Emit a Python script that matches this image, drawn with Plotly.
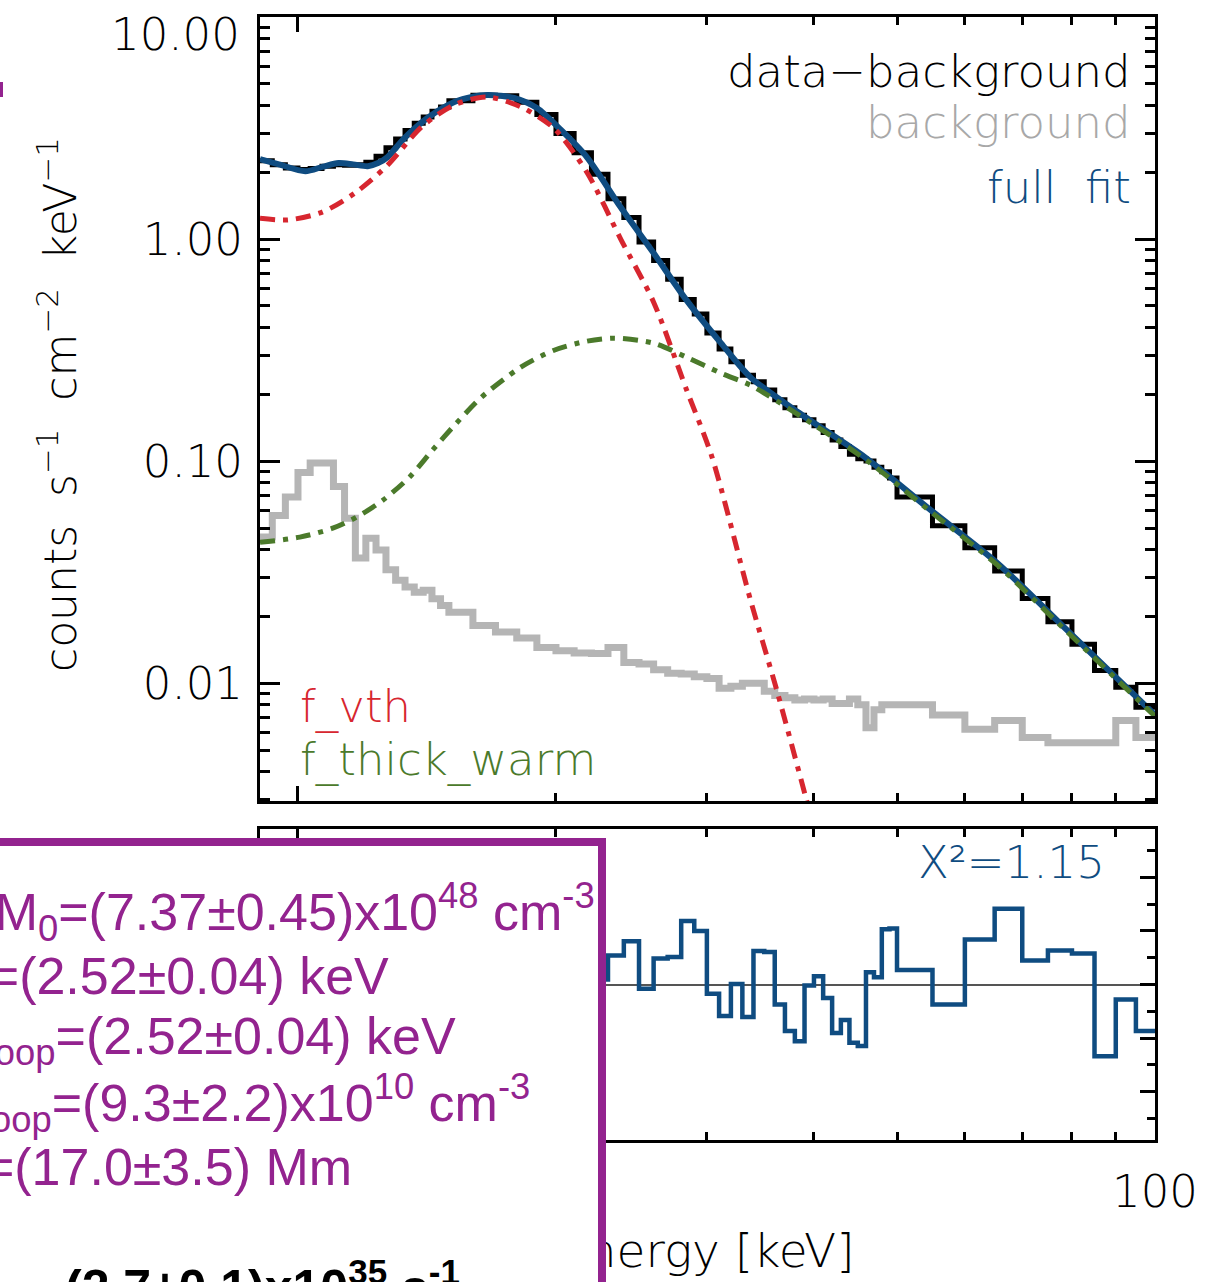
import math
import plotly.graph_objects as go

# ---------------- data ----------------
# energy bin edges (keV)
bin_edges = [9.0, 9.333, 9.667, 10.0, 10.333, 10.667, 11.0, 11.333, 11.667, 12.0,
             12.333, 12.667, 13.0, 13.333, 13.667, 14.0, 14.333, 14.667, 15.0,
             16, 17, 18, 19, 20, 21, 22, 23, 24, 25, 26, 27, 28, 29, 30,
             31, 32, 33, 34, 35, 36, 37, 38, 39, 40, 41, 42, 43, 44, 45,
             46, 47, 48, 49, 50, 55, 60, 65, 70, 75, 80, 85, 90, 95, 100]

# data - background (counts s^-1 cm^-2 keV^-1)
data_minus_bkg = [2.25, 2.16, 2.09, 2.06, 2.08, 2.13, 2.16, 2.15, 2.16, 2.22,
                  2.36, 2.58, 2.82, 3.08, 3.32, 3.55, 3.76, 3.93,
                  4.20, 4.44, 4.42, 4.13, 3.64, 2.99, 2.45, 1.96, 1.52, 1.25,
                  0.97, 0.80, 0.66, 0.535, 0.46, 0.378, 0.320, 0.280, 0.244, 0.228,
                  0.209, 0.189, 0.174, 0.161, 0.1535, 0.1445, 0.1345, 0.1245, 0.1165, 0.1075,
                  0.1025, 0.1003, 0.0940, 0.0895, 0.0840,
                  0.0690, 0.0512, 0.0408, 0.0320, 0.0241, 0.0189, 0.0150, 0.0114, 0.0096, 0.0078]

background = [0.0455, 0.057, 0.069, 0.089, 0.098, 0.098, 0.077, 0.0553, 0.0366, 0.045,
              0.0398, 0.0324, 0.0291, 0.0271, 0.0257, 0.0262, 0.0240, 0.0224,
              0.0209, 0.0182, 0.0170, 0.0160, 0.0145, 0.0140, 0.0137, 0.0136, 0.0145, 0.0124,
              0.0122, 0.0115, 0.0111, 0.0110, 0.0107, 0.0105, 0.0095, 0.0097, 0.0100, 0.0100,
              0.0092, 0.0088, 0.0086, 0.0084, 0.0085, 0.0084, 0.0085, 0.0081, 0.0081, 0.0085,
              0.0080, 0.0063, 0.0076, 0.0080, 0.0080,
              0.0080, 0.0072, 0.0062, 0.0068, 0.0057, 0.0054, 0.0054, 0.0054, 0.0068, 0.0057]

# normalised residuals per bin
residuals = [0.8, -0.5, 1.2, 0.3, -1.0, 0.6, -0.2, 1.5, -0.8, 0.4,
             -1.3, 0.9, 0.1, -0.6, 1.1, -0.4, 0.7, -1.1,
             0.5, 1.3, -0.7, 0.2, -0.9, 1.0, -0.3, 0.19, 1.08, 1.62,
             -0.16, 0.97, 1.03, 2.37, 2.0, -0.35, -1.18, 0.02, -1.21, 1.25,
             1.21, -0.75, -1.74, -2.12, -0.04, 0.31, -0.5, -1.81, -1.33, -2.18,
             -2.3, 0.46, 0.27, 2.06, 2.09,
             0.54, -0.75, 1.68, 2.83, 0.90, 1.27, 1.16, -2.68, -0.56, -1.74]

# full fit
fit_energy = [9.03, 9.5, 10.2, 10.7, 11.15, 11.6, 12.06, 12.4, 12.72, 13.31, 14.16, 15.22,
              16.0, 16.63, 17.2, 17.87, 19.0, 20.27, 21.73, 23.8, 26.0, 28.4, 31.16, 33.71,
              38.34, 45.9, 54.8, 65.5, 78.3, 100.0]
fit_flux = [2.29, 2.17, 2.02, 2.12, 2.20, 2.17, 2.13, 2.20, 2.34, 2.85, 3.51, 4.14,
            4.38, 4.45, 4.42, 4.32, 3.89, 3.10, 2.34, 1.39, 0.865, 0.531, 0.340, 0.239,
            0.166, 0.104, 0.060, 0.0347, 0.0179, 0.0072]

# f_vth component
vth_energy = [9.03, 9.74, 10.66, 11.65, 12.72, 13.94, 15.22, 16.63, 18.2, 19.9, 21.73,
              23.8, 26.0, 28.4, 30.4, 33.7, 36.2, 39.1, 39.8]
vth_flux = [1.24, 1.22, 1.32, 1.61, 2.15, 3.20, 4.02, 4.36, 3.94, 3.15, 2.00,
            1.00, 0.52, 0.21, 0.105, 0.0240, 0.0093, 0.0031, 0.0024]

# f_thick_warm component
thick_energy = [9.03, 10.05, 10.98, 11.71, 12.56, 13.49, 14.35, 15.30, 16.37, 18.2, 19.9,
                21.73, 23.38, 25.99, 28.4, 31.16, 33.71, 38.34, 45.9, 54.8, 65.5, 78.3, 100.0]
thick_flux = [0.0431, 0.0455, 0.0499, 0.056, 0.0667, 0.0847, 0.112, 0.148, 0.194, 0.265, 0.316,
              0.347, 0.358, 0.340, 0.294, 0.249, 0.220, 0.162, 0.102, 0.059, 0.034, 0.0176, 0.0071]

x_range_keV = [9.03, 100.0]
y_range_flux = [0.00295, 10.0]
y_range_resid = [-5.81, 5.81]

fit_text = [
    ("EM<sub>0</sub>=(7.37±0.45)x10<sup>48</sup> cm<sup>-3</sup>", 597, 912),
    ("T=(2.52±0.04) keV", 391, 976),
    ("T<sub>loop</sub>=(2.52±0.04) keV", 458, 1040),
    ("n<sub>loop</sub>=(9.3±2.2)x10<sup>10</sup> cm<sup>-3</sup>", 532, 1103),
    ("L=(17.0±3.5) Mm", 354, 1167),
]
flux_text = "(2.7±0.1)x10<sup>35</sup> s<sup>-1</sup>"

# ---------------- helpers ----------------
W, H = 1217, 1282
ML, MR, MT, MB = 260, 62, 17, 142
PW = W - ML - MR
PH = H - MT - MB


def px(x):
    return (x - ML) / PW


def py(y):
    return (H - MB - y) / PH


def step_xy(edges, vals):
    return list(edges), list(vals) + [vals[-1]]


FONT = "DejaVu Sans"
FS = 45
BLUE = "#0f4c81"
RED = "#d7262f"
GREEN = "#4b7a2b"
GRAY = "#b5b5b5"
PURPLE = "#93238f"
DASH = "15px,8px,5px,8px"

fig = go.Figure()

bx, by = step_xy(bin_edges, background)
fig.add_trace(go.Scatter(x=bx, y=by, mode="lines", line=dict(color=GRAY, width=7, shape="hv"),
                         xaxis="x", yaxis="y", showlegend=False))
dx, dy = step_xy(bin_edges, data_minus_bkg)
fig.add_trace(go.Scatter(x=dx, y=dy, mode="lines", line=dict(color="black", width=5, shape="hv"),
                         xaxis="x", yaxis="y", showlegend=False))
fig.add_trace(go.Scatter(x=fit_energy, y=fit_flux, mode="lines",
                         line=dict(color=BLUE, width=6, shape="spline", smoothing=0.8),
                         xaxis="x", yaxis="y", showlegend=False))
fig.add_trace(go.Scatter(x=vth_energy, y=vth_flux, mode="lines",
                         line=dict(color=RED, width=5, shape="spline", smoothing=0.8, dash=DASH),
                         xaxis="x", yaxis="y", showlegend=False))
fig.add_trace(go.Scatter(x=thick_energy, y=thick_flux, mode="lines",
                         line=dict(color=GREEN, width=5, shape="spline", smoothing=0.8, dash=DASH),
                         xaxis="x", yaxis="y", showlegend=False))

rx, ry = step_xy(bin_edges, residuals)
fig.add_trace(go.Scatter(x=rx, y=ry, mode="lines", line=dict(color=BLUE, width=4.5, shape="hv"),
                         xaxis="x2", yaxis="y2", showlegend=False))

xminor = [20, 30, 40, 50, 60, 70, 80, 90]
yminor = [m * 10 ** d for d in (-3, -2, -1, 0) for m in range(2, 10)]

common_x = dict(type="log", range=[math.log10(x_range_keV[0]), math.log10(x_range_keV[1])],
                showline=True, linecolor="black", linewidth=3, mirror="allticks",
                ticks="inside", ticklen=15, tickwidth=2.5, tickcolor="black",
                tickvals=[10, 100], showgrid=False, zeroline=False,
                minor=dict(tickmode="array", tickvals=xminor, ticks="inside", ticklen=8,
                           tickwidth=2.5, tickcolor="black", showgrid=False))

fig.update_layout(
    width=W, height=H, margin=dict(l=ML, r=MR, t=MT, b=MB),
    paper_bgcolor="white", plot_bgcolor="white",
    font=dict(family=FONT, size=FS, color="black"),
    xaxis=dict(common_x, domain=[0, 1], anchor="y", showticklabels=False),
    yaxis=dict(type="log", domain=[py(801), 1], anchor="x",
               range=[math.log10(y_range_flux[0]), math.log10(y_range_flux[1])],
               showline=True, linecolor="black", linewidth=3, mirror="allticks",
               ticks="inside", ticklen=20, tickwidth=2.5, tickcolor="black",
               tickvals=[0.01, 0.1, 1, 10], ticktext=["0.01", "0.10", "1.00", ""],
               ticklabelstandoff=5, showgrid=False, zeroline=False,
               tickfont=dict(family=FONT, size=FS, color="black", weight=300),
               minor=dict(tickmode="array", tickvals=yminor, ticks="inside", ticklen=10,
                          tickwidth=2.5, tickcolor="black", showgrid=False)),
    xaxis2=dict(common_x, domain=[0, 1], anchor="y2", showticklabels=True,
                ticktext=["", "100"], ticklabelstandoff=10,
                tickfont=dict(family=FONT, size=FS, color="black", weight=300)),
    yaxis2=dict(domain=[0, py(829)], anchor="x2", range=y_range_resid,
                showline=True, linecolor="black", linewidth=3, mirror="allticks",
                ticks="inside", ticklen=15, tickwidth=2.5, tickcolor="black",
                tickvals=[-4, -2, 0, 2, 4], showticklabels=False, showgrid=False,
                zeroline=True, zerolinecolor="#555555", zerolinewidth=1.5,
                minor=dict(tickmode="array", tickvals=[-5, -3, -1, 1, 3, 5], ticks="inside",
                           ticklen=8, tickwidth=2.5, tickcolor="black", showgrid=False)),
)


def label(text, x, y, xanchor, color="black", size=FS, **kw):
    return dict(text=text, x=px(x), y=py(y), xref="paper", yref="paper",
                xanchor=xanchor, yanchor=kw.pop("yanchor", "middle"), showarrow=False,
                font=dict(family=kw.pop("family", FONT), size=size, color=color,
                          weight=kw.pop("weight", 300)), **kw)


ann = []
# axis titles
ann.append(label("Energy [keV]", 857, 1250, "right", size=47))
ann.append(label("counts  s<sup>−1</sup>  cm<sup>−2</sup>  keV<sup>−1</sup>", 58, 405, "center",
                 size=44, textangle=-90))
ann.append(label("10.00", 242, 35, "right"))
# curve labels
ann.append(label("data−background", 1133, 72, "right"))
ann.append(label("background", 1133, 122, "right", color="#a8a8a8"))
ann.append(label("full  fit", 1133, 187, "right", color=BLUE))
ann.append(label("f_vth", 298, 706, "left", color=RED))
ann.append(label("f_thick_warm", 298, 760, "left", color=GREEN))
ann.append(label("X²=1.15", 1107, 862, "right", color=BLUE))
# overlay box
ann.append(dict(text=" ", x=px(606), y=py(838), xref="paper", yref="paper",
                xanchor="right", yanchor="top", showarrow=False, width=640, height=446,
                bgcolor="white", bordercolor=PURPLE, borderwidth=8, borderpad=0,
                font=dict(size=10)))
for txt, xr, yc in fit_text:
    ann.append(label(txt, xr, yc, "right", color=PURPLE, size=52,
                     family="Liberation Sans", weight=400))
ann.append(label(flux_text, 63, 1250, "left", color="black", size=50,
                 family="Liberation Sans", weight=700, yanchor="top"))

fig.update_layout(annotations=ann)

fig.add_shape(type="rect", xref="paper", yref="paper", x0=px(-2), x1=px(3), y0=py(97), y1=py(82),
              line=dict(width=0), fillcolor=PURPLE)

fig.write_html("out.html")
